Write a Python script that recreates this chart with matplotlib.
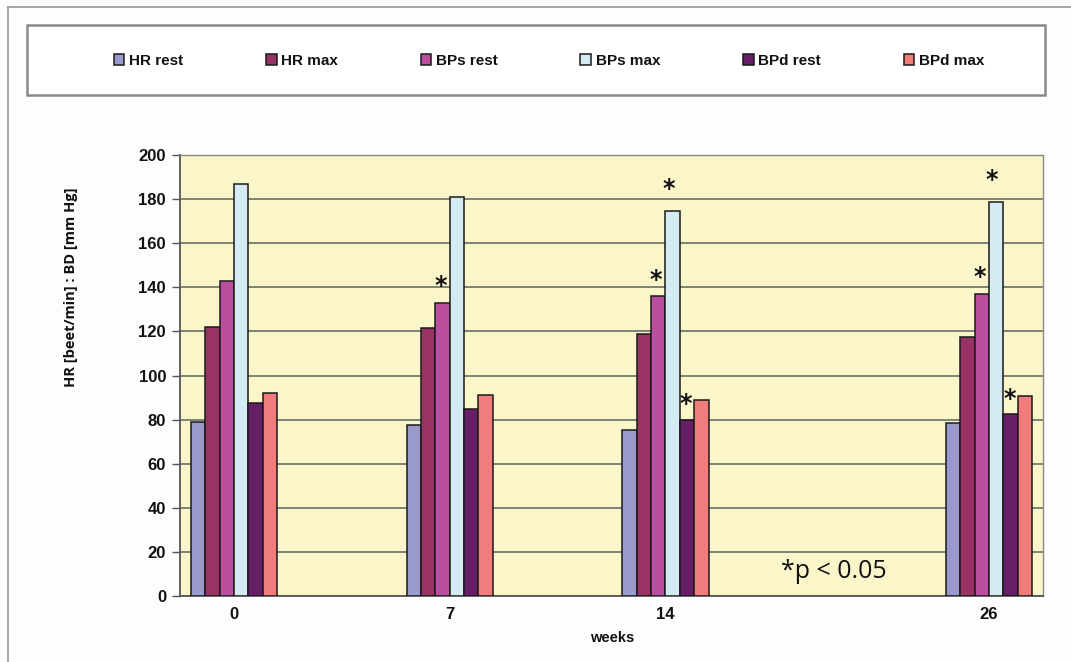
import matplotlib
matplotlib.use("Agg")
import matplotlib.pyplot as plt
from matplotlib.patches import Rectangle
from matplotlib.lines import Line2D
import numpy as np

weeks = ["0", "7", "14", "26"]
series = ["HR rest", "HR max", "BPs rest", "BPs max", "BPd rest", "BPd max"]
hr_rest = [79, 77.5, 75.5, 78.5]
hr_max = [122, 121.5, 119, 117.5]
bps_rest = [143, 133, 136, 137]
bps_max = [187, 181, 174.5, 178.5]
bpd_rest = [87.5, 85, 80, 82.5]
bpd_max = [92, 91, 89, 90.5]
values = [hr_rest, hr_max, bps_rest, bps_max, bpd_rest, bpd_max]
# significance flags (1 = p<0.05) per series, per week
sig_bps_rest = [0, 1, 1, 1]
sig_bps_max = [0, 0, 1, 1]
sig_bpd_rest = [0, 0, 1, 1]

colors = ["#9999CC", "#993366", "#BB4E9E", "#D5EBF3", "#661F66", "#F07C7C"]

W, H = 1071, 662
fig = plt.figure(figsize=(W / 100, H / 100), dpi=100)
fig.patch.set_facecolor("#FDFDFE")

def fx(px):
    return px / W

def fy(py):
    return 1 - py / H

# axes placement
left, right, top, bottom = 180, 1043, 155, 596
ax = fig.add_axes([fx(left), fy(bottom), fx(right - left), (bottom - top) / H])
ax.set_facecolor("#FBF6CA")

group_pos = np.array([0, 1, 2, 3.5])
bw = 0.0667
n = len(series)
for i, (name, vals, c) in enumerate(zip(series, values, colors)):
    xs = group_pos + (i - (n - 1) / 2) * bw
    ax.bar(xs, vals, width=bw, color=c, edgecolor="#1a1a1a", linewidth=1.1, zorder=3, label=name)

# significance stars
def stars(series_idx, flags, dy, dx=0.0):
    vals = values[series_idx]
    for g, f in enumerate(flags):
        if f:
            x = group_pos[g] + (series_idx - (n - 1) / 2) * bw + dx
            ax.text(x, vals[g] + dy, "*", ha="center", va="center", fontsize=17,
                    fontweight="bold", fontfamily="DejaVu Sans", color="#111111", zorder=4)

stars(2, sig_bps_rest, 7.5, -0.01)
stars(3, sig_bps_max, 10, -0.02)
stars(4, sig_bpd_rest, 7, -0.005)

ax.set_xlim(-0.25, 3.75)
ax.set_ylim(0, 200)
ax.set_yticks(np.arange(0, 201, 20))
ax.set_xticks(group_pos)
ax.set_xticklabels(weeks)
ax.yaxis.grid(True, color="#5a6464", linewidth=1.1, zorder=1)
ax.set_axisbelow(True)
for s in ["top", "right"]:
    ax.spines[s].set_color("#888888")
    ax.spines[s].set_linewidth(1.0)
for s in ["left", "bottom"]:
    ax.spines[s].set_color("#555555")
    ax.spines[s].set_linewidth(1.3)
ax.tick_params(axis="y", length=6, width=1, color="#555555", pad=4)
ax.tick_params(axis="x", length=0, pad=8)
for lab in ax.get_xticklabels() + ax.get_yticklabels():
    lab.set_fontfamily("Liberation Sans")
    lab.set_fontweight("bold")
    lab.set_fontsize(12)
    lab.set_color("#111111")

ax.text(2.78, 11, "*p < 0.05", fontsize=18, fontfamily="Open Sans",
        ha="center", va="center", color="#111111", zorder=5)

fig.text(fx(612), fy(638), "weeks", ha="center", va="center", fontsize=10.5,
         fontweight="bold", fontfamily="Liberation Sans", color="#111111")
fig.text(fx(71), fy(287), "HR [beet/min] : BD [mm Hg]", ha="center", va="center",
         rotation=90, fontsize=10.5, fontweight="bold", fontfamily="Open Sans", color="#111111")

# outer frame lines (top and left)
fig.add_artist(Line2D([fx(8), 1], [fy(7), fy(7)], transform=fig.transFigure, color="#999999", lw=1.2))
fig.add_artist(Line2D([fx(8), fx(8)], [fy(7), 0], transform=fig.transFigure, color="#999999", lw=1.2))

# legend box
fig.add_artist(Rectangle((fx(27), fy(95)), fx(1045 - 27), (95 - 25) / H, transform=fig.transFigure,
                         facecolor="white", edgecolor="#8a8a8a", lw=1.8, zorder=0))
handles, labels = ax.get_legend_handles_labels()
leg = fig.legend(handles, labels, loc="center", ncol=6, mode="expand",
                 bbox_to_anchor=(fx(100), fy(61) - 0.02, fx(998 - 100), 0.04),
                 frameon=False, handlelength=0.7, handleheight=0.7, handletextpad=0.3,
                 prop={"family": "Liberation Sans", "weight": "bold", "size": 11})
for t in leg.get_texts():
    t.set_color("#111111")

fig.savefig("out.png", dpi=100, facecolor=fig.get_facecolor())
